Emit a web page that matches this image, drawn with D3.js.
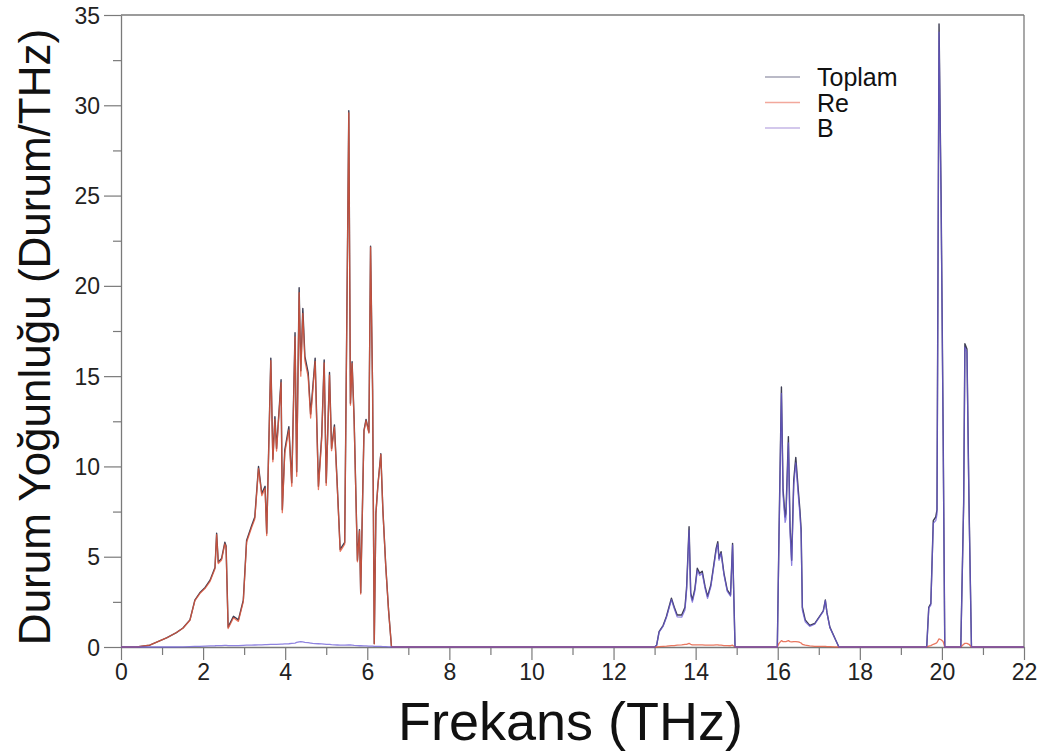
<!DOCTYPE html>
<html>
<head>
<meta charset="utf-8">
<script src="https://cdn.jsdelivr.net/npm/d3@7"></script>
<style>
  body { margin: 0; background: #fff; }
  svg { display: block; font-family: "Liberation Sans", Arial, sans-serif; }
</style>
</head>
<body>
<svg id="chart"></svg>
<script>
// frequency grid (THz) and the three DOS series
const freq = [
  0.00, 0.38, 0.70, 1.11, 1.35, 1.51, 1.68, 1.80, 1.92, 2.05, 2.17, 2.29, 2.33, 2.37, 2.45, 2.53, 2.56, 2.61, 2.74, 2.86,
  2.98, 3.06, 3.18, 3.26, 3.35, 3.43, 3.51, 3.55, 3.65, 3.70, 3.75, 3.79, 3.90, 3.93, 3.99, 4.09, 4.16, 4.24, 4.28, 4.34,
  4.38, 4.43, 4.48, 4.56, 4.62, 4.67, 4.73, 4.81, 4.89, 4.95, 5.00, 5.08, 5.13, 5.20, 5.27, 5.34, 5.45, 5.55, 5.59, 5.63,
  5.68, 5.76, 5.81, 5.84, 5.92, 5.97, 6.04, 6.08, 6.13, 6.17, 6.21, 6.26, 6.33, 6.38, 6.45, 6.52, 6.59,
  13.00, 13.05, 13.11, 13.21, 13.29, 13.41, 13.48, 13.55, 13.66, 13.74, 13.78, 13.84, 13.88, 13.92, 13.98, 14.04, 14.10,
  14.16, 14.23, 14.29, 14.37, 14.43, 14.50, 14.54, 14.57, 14.62, 14.69, 14.77, 14.85, 14.90, 14.96,
  15.99, 16.03, 16.09, 16.13, 16.18, 16.20, 16.26, 16.30, 16.34, 16.39, 16.44, 16.50, 16.54, 16.57, 16.60, 16.67, 16.78,
  16.90, 17.02, 17.11, 17.16, 17.20, 17.27, 17.39, 17.49,
  19.63, 19.68, 19.73, 19.79, 19.85, 19.88, 19.93, 19.98, 20.03, 20.07,
  20.46, 20.53, 20.56, 20.61, 20.66, 20.72, 22.00
];
const toplam = [
  0, 0, 0.1, 0.5, 0.8, 1.05, 1.5, 2.6, 3.0, 3.3, 3.7, 4.4, 6.3, 4.7, 4.9, 5.8, 5.6, 1.1, 1.7, 1.5,
  2.6, 5.9, 6.7, 7.2, 10.0, 8.5, 8.9, 6.3, 16.0, 10.4, 12.75, 11.0, 14.8, 7.6, 10.9, 12.2, 9.1, 17.4, 9.7, 19.9,
  15.3, 18.75, 16.1, 15.2, 12.9, 14.3, 16.0, 8.9, 11.7, 15.9, 9.1, 15.2, 11.0, 12.3, 8.9, 5.4, 5.8, 29.7, 13.5, 15.8,
  12.6, 4.8, 6.5, 3.0, 12.0, 12.6, 11.9, 22.2, 14.2, 0.2, 7.4, 9.0, 10.7, 7.6, 4.5, 2.0, 0,
  0, 0.1, 0.85, 1.2, 1.7, 2.7, 2.2, 1.77, 1.77, 2.2, 3.3, 6.66, 3.0, 2.6, 3.2, 4.36, 4.08,
  4.2, 3.34, 2.8, 3.43, 4.36, 5.46, 5.83, 4.9, 5.28, 4.08, 3.16, 2.88, 5.74, 0,
  0, 6.1, 14.4, 8.7, 7.2, 7.4, 11.65, 6.66, 4.8, 9.25, 10.5, 8.7, 7.6, 6.5, 2.2, 1.5, 1.2,
  1.3, 1.7, 2.0, 2.6, 1.9, 1.1, 0.5, 0,
  0, 2.2, 2.4, 7.0, 7.2, 7.6, 34.5, 25.0, 12.0, 0,
  0, 8.0, 16.8, 16.5, 8.0, 0, 0
];
const re = [
  0, 0, 0.1, 0.5, 0.8, 1.04, 1.48, 2.57, 2.96, 3.25, 3.64, 4.33, 6.22, 4.62, 4.82, 5.71, 5.51, 1.02, 1.62, 1.42,
  2.51, 5.8, 6.6, 7.09, 9.88, 8.38, 8.77, 6.17, 15.86, 10.26, 12.6, 10.85, 14.64, 7.44, 10.73, 12.02, 8.9, 17.18, 9.45, 19.62,
  15.0, 18.47, 15.84, 14.96, 12.68, 14.1, 15.81, 8.72, 11.53, 15.74, 8.95, 15.06, 10.87, 12.18, 8.79, 5.3, 5.7, 29.58, 13.39, 15.7,
  12.51, 4.72, 6.43, 2.93, 11.94, 12.54, 11.85, 22.15, 14.15, 0.16, 7.36, 8.97, 10.67, 7.58, 4.48, 1.99, 0,
  0, 0, 0.02, 0.04, 0.05, 0.08, 0.08, 0.1, 0.12, 0.15, 0.15, 0.2, 0.15, 0.12, 0.12, 0.12, 0.12,
  0.12, 0.1, 0.1, 0.1, 0.1, 0.12, 0.12, 0.1, 0.1, 0.08, 0.08, 0.07, 0.1, 0,
  0, 0.2, 0.35, 0.3, 0.3, 0.3, 0.35, 0.3, 0.28, 0.3, 0.3, 0.28, 0.25, 0.22, 0.15, 0.1, 0.06,
  0.04, 0.03, 0.03, 0.03, 0.02, 0.02, 0.01, 0,
  0, 0.05, 0.08, 0.15, 0.2, 0.25, 0.45, 0.4, 0.3, 0,
  0, 0.15, 0.2, 0.2, 0.15, 0, 0
];
const bor = [
  0, 0, 0, 0, 0, 0.01, 0.02, 0.03, 0.04, 0.05, 0.06, 0.07, 0.08, 0.08, 0.08, 0.09, 0.09, 0.08, 0.08, 0.08,
  0.09, 0.1, 0.1, 0.11, 0.12, 0.12, 0.13, 0.13, 0.14, 0.14, 0.15, 0.15, 0.16, 0.16, 0.17, 0.18, 0.2, 0.22, 0.25, 0.28,
  0.3, 0.28, 0.26, 0.24, 0.22, 0.2, 0.19, 0.18, 0.17, 0.16, 0.15, 0.14, 0.13, 0.12, 0.11, 0.1, 0.1, 0.12, 0.11, 0.1,
  0.09, 0.08, 0.07, 0.07, 0.06, 0.06, 0.05, 0.05, 0.05, 0.04, 0.04, 0.03, 0.03, 0.02, 0.02, 0.01, 0,
  0, 0.1, 0.83, 1.16, 1.65, 2.62, 2.12, 1.67, 1.65, 2.05, 3.15, 6.46, 2.85, 2.48, 3.08, 4.24, 3.96,
  4.08, 3.24, 2.7, 3.33, 4.26, 5.34, 5.71, 4.8, 5.18, 4.0, 3.08, 2.81, 5.64, 0,
  0, 5.9, 14.05, 8.4, 6.9, 7.1, 11.3, 6.36, 4.52, 8.95, 10.2, 8.42, 7.35, 6.28, 2.05, 1.4, 1.14,
  1.26, 1.67, 1.97, 2.57, 1.88, 1.08, 0.49, 0,
  0, 2.15, 2.32, 6.85, 7.0, 7.35, 34.05, 24.6, 11.7, 0,
  0, 7.85, 16.6, 16.3, 7.85, 0, 0
];

const xTicks = [0, 2, 4, 6, 8, 10, 12, 14, 16, 18, 20, 22];
const yTicks = [0, 5, 10, 15, 20, 25, 30, 35];
const legendNames = ["Toplam", "Re", "B"];

const W = 1053, H = 756;
const margin = { top: 15, right: 29, bottom: 109, left: 121 };
const width = W - margin.left - margin.right;
const height = H - margin.top - margin.bottom;

const svg = d3.select("#chart").attr("width", W).attr("height", H);

const x = d3.scaleLinear().domain([0, 22]).range([0, width]);
const y = d3.scaleLinear().domain([0, 35]).range([height, 0]);

const g = svg.append("g").attr("transform", `translate(${margin.left},${margin.top})`);

const axisColor = "#7a7a7a";

// frame top and right
g.append("line").attr("x1", 0).attr("x2", width).attr("y1", 0).attr("y2", 0)
  .attr("stroke", axisColor).attr("stroke-width", 1.3);
g.append("line").attr("x1", width).attr("x2", width).attr("y1", 0).attr("y2", height)
  .attr("stroke", axisColor).attr("stroke-width", 1.3);

// minor ticks
g.append("g").attr("transform", `translate(0,${height})`)
  .call(d3.axisBottom(x).tickValues(d3.range(1, 22, 2)).tickSize(8).tickFormat(""))
  .call(a => a.select(".domain").remove())
  .call(a => a.selectAll("line").attr("stroke", axisColor).attr("stroke-width", 1.2));
g.append("g")
  .call(d3.axisLeft(y).tickValues(d3.range(2.5, 35, 5)).tickSize(8).tickFormat(""))
  .call(a => a.select(".domain").remove())
  .call(a => a.selectAll("line").attr("stroke", axisColor).attr("stroke-width", 1.2));

// major axes
const xAxis = g.append("g").attr("transform", `translate(0,${height})`)
  .call(d3.axisBottom(x).tickValues(xTicks).tickSize(13).tickSizeOuter(0).tickPadding(4));
const yAxis = g.append("g")
  .call(d3.axisLeft(y).tickValues(yTicks).tickSize(17).tickSizeOuter(0).tickPadding(4));

[xAxis, yAxis].forEach(a => {
  a.select(".domain").attr("stroke", axisColor).attr("stroke-width", 1.3);
  a.selectAll(".tick line").attr("stroke", axisColor).attr("stroke-width", 1.2);
  a.selectAll(".tick text").attr("fill", "#222").style("font-size", "23px")
    .style("font-family", '"Liberation Sans", Arial, sans-serif');
});
yAxis.selectAll(".tick text").attr("dy", "0.35em");

// series: Toplam underneath, partials drawn over it
const line = vals => d3.line()
  .x((d, i) => x(freq[i]))
  .y((d, i) => y(vals[i]))(vals);

g.append("path").attr("d", line(toplam)).attr("fill", "none")
  .attr("stroke", "#3c3c52").attr("stroke-width", 1.4).attr("stroke-linejoin", "round");
g.append("path").attr("d", line(re)).attr("fill", "none")
  .attr("stroke", "#e4563a").attr("stroke-opacity", 0.8).attr("stroke-width", 1.3).attr("stroke-linejoin", "round");
g.append("path").attr("d", line(bor)).attr("fill", "none")
  .attr("stroke", "#6a5ad6").attr("stroke-opacity", 0.75).attr("stroke-width", 1.3).attr("stroke-linejoin", "round");

// legend
const legendColors = ["#a3a3b4", "#f2a89c", "#c4b6e6"];
const lg = svg.append("g").attr("transform", "translate(765,77)");
legendNames.forEach((name, i) => {
  const row = lg.append("g").attr("transform", `translate(0,${i * 25.5})`);
  row.append("line").attr("x1", 0).attr("x2", 35).attr("y1", 0).attr("y2", 0)
    .attr("stroke", legendColors[i]).attr("stroke-width", 1.6);
  row.append("text").attr("x", 52).attr("y", 9).text(name)
    .attr("fill", "#111").style("font-size", "25px");
});

// axis titles
svg.append("text")
  .attr("x", margin.left + width / 2 - 2).attr("y", 740)
  .attr("text-anchor", "middle").attr("fill", "#111")
  .style("font-size", "54px").text("Frekans (THz)");

svg.append("text")
  .attr("transform", `translate(50,${margin.top + height / 2 + 6}) rotate(-90)`)
  .attr("text-anchor", "middle").attr("fill", "#111")
  .style("font-size", "44px").text("Durum Yoğunluğu (Durum/THz)");
</script>
</body>
</html>
